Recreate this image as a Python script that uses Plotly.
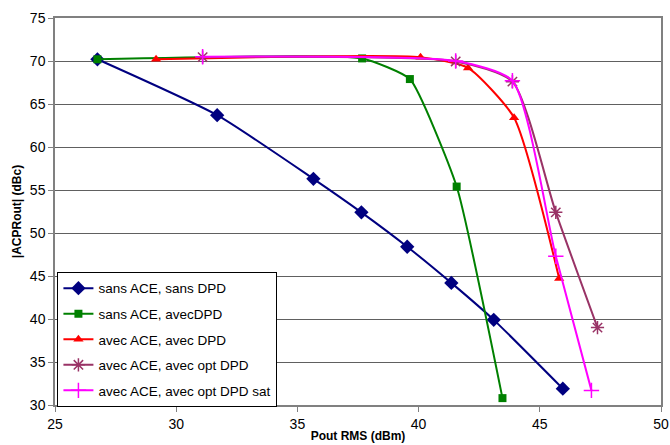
import plotly.graph_objects as go

# Data
names = ["sans ACE, sans DPD", "sans ACE, avecDPD", "avec ACE, avec DPD",
         "avec ACE, avec opt DPD", "avec ACE, avec opt DPD sat"]

x_sans_sans = [26.75, 31.69, 35.66, 37.64, 39.53, 41.35, 43.1, 45.95]
y_sans_sans = [70.2, 63.7, 56.3, 52.4, 48.4, 44.2, 39.9, 31.9]

x_sans_avec = [26.75, 37.67, 39.64, 41.57, 43.46]
y_sans_avec = [70.2, 70.3, 67.9, 55.4, 30.8]

x_avec_avec = [29.17, 40.08, 42.04, 43.94, 45.8]
y_avec_avec = [70.2, 70.45, 69.2, 63.4, 44.7]

x_avec_opt = [31.09, 41.53, 43.87, 45.66, 47.38]
y_avec_opt = [70.45, 69.95, 67.6, 52.4, 39.0]

x_avec_opt_sat = [31.09, 41.53, 43.87, 45.66, 47.13]
y_avec_opt_sat = [70.5, 70.0, 67.7, 47.3, 31.7]

x_ticks = [25, 30, 35, 40, 45, 50]
y_ticks = [30, 35, 40, 45, 50, 55, 60, 65, 70, 75]

FONT = "Arial, 'Liberation Sans', sans-serif"

series = [
    (x_sans_sans, y_sans_sans, "#000080", "diamond", 11, None, 0.55),
    (x_sans_avec, y_sans_avec, "#008000", "square", 8, None, 0.45),
    (x_avec_avec, y_avec_avec, "#FF0000", "triangle-up", 9, None, 0.55),
    (x_avec_opt, y_avec_opt, "#993366", "asterisk-open", 11, 1.5, 0.6),
    (x_avec_opt_sat, y_avec_opt_sat, "#FF00FF", "cross-thin-open", 11, 1.5, 0.6),
]

fig = go.Figure()
for i, (xs, ys, col, sym, sz, lw, sm) in enumerate(series):
    marker = dict(symbol=sym, size=sz, color=col)
    if lw:
        marker["line"] = dict(color=col, width=lw)
    fig.add_trace(go.Scatter(
        x=xs, y=ys, name=names[i], mode="lines+markers",
        line=dict(color=col, width=2, shape="spline", smoothing=sm),
        marker=marker, legendgroup=f"g{i}",
    ))

fig.update_layout(
    width=670, height=445,
    margin=dict(l=55, r=9, t=18, b=40),
    paper_bgcolor="white", plot_bgcolor="white",
    font=dict(family=FONT, size=14, color="black"),
    showlegend=True,
    legend=dict(
        x=0.004, y=0.344, xanchor="left", yanchor="top",
        bgcolor="white", bordercolor="black", borderwidth=1,
        font=dict(family=FONT, size=13.5, color="black"),
        traceorder="grouped", tracegroupgap=5,
    ),
)

fig.update_xaxes(
    range=[25, 50], tickvals=x_ticks, ticktext=[str(v) for v in x_ticks],
    showgrid=False, zeroline=False, automargin=False,
    showline=True, linecolor="#808080", linewidth=1.5, mirror=True,
    ticks="outside", ticklen=5, tickcolor="#808080",
    title=dict(text="<b>Pout RMS (dBm)</b>", font=dict(family=FONT, size=12), standoff=1),
)
fig.update_yaxes(
    range=[30, 75], tickvals=y_ticks, ticktext=[str(v) for v in y_ticks],
    showgrid=True, gridcolor="#606060", gridwidth=1, zeroline=False, automargin=False,
    showline=True, linecolor="#808080", linewidth=1.5, mirror=True,
    ticks="outside", ticklen=5, tickcolor="#808080",
    title=dict(text="<b>|ACPRout| (dBc)</b>", font=dict(family=FONT, size=12), standoff=6),
)

fig.write_html(
    "out.html",
    config={"displayModeBar": False},
    post_script="document.body.style.margin='0';document.body.style.overflow='hidden';",
)
